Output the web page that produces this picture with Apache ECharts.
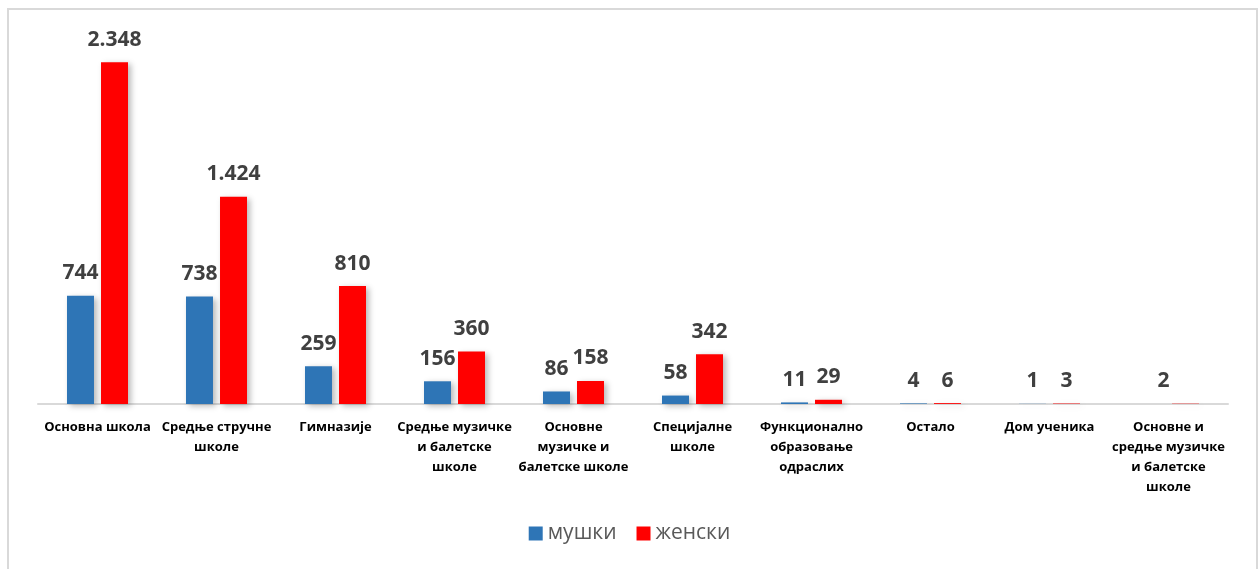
<!DOCTYPE html>
<html>
<head>
<meta charset="utf-8">
<script src="https://cdn.jsdelivr.net/npm/echarts@6/dist/echarts.min.js"></script>
<style>
html,body{margin:0;padding:0;background:#fff;}
#chart{width:1259px;height:569px;}
</style>
</head>
<body>
<div id="chart"></div>
<script>
const categories = [
  "Основна школа",
  "Средње стручне\nшколе",
  "Гимназије",
  "Средње музичке\nи балетске\nшколе",
  "Основне\nмузичке и\nбалетске школе",
  "Специјалне\nшколе",
  "Функционално\nобразовање\nодраслих",
  "Остало",
  "Дом ученика",
  "Основне и\nсредње музичке\nи балетске\nшколе"
];
const seriesNames = ["мушки", "женски"];
const male = [744, 738, 259, 156, 86, 58, 11, 4, 1, null];
const female = [2348, 1424, 810, 360, 158, 342, 29, 6, 3, 2];

function fmt(v) {
  return String(v).replace(/\B(?=(\d{3})+(?!\d))/g, ".");
}

const chart = echarts.init(document.getElementById('chart'));
const labelStyle = {
  show: true,
  position: 'top',
  distance: 12,
  fontFamily: 'Open Sans',
  fontWeight: 'bold',
  fontSize: 21,
  color: '#404040',
  formatter: p => p.value == null ? '' : fmt(p.value)
};
const shadow = {
  shadowColor: 'rgba(0,0,0,0.28)',
  shadowBlur: 6,
  shadowOffsetX: 3,
  shadowOffsetY: 2
};
chart.setOption({
  animation: false,
  graphic: [{
    type: 'rect',
    shape: {x: 8, y: 9, width: 1249, height: 580},
    style: {fill: 'none', stroke: '#d9d9d9', lineWidth: 2},
    silent: true
  }],
  legend: {
    bottom: 20,
    left: 'center',
    itemWidth: 14,
    itemHeight: 14,
    itemGap: 20,
    icon: 'rect',
    textStyle: {fontFamily: 'Open Sans', fontSize: 21, color: '#595959'},
    data: seriesNames
  },
  grid: {left: 38, right: 31, top: 40, bottom: 165},
  xAxis: {
    type: 'category',
    data: categories,
    axisLine: {lineStyle: {color: '#d9d9d9', width: 2}},
    axisTick: {show: false},
    axisLabel: {
      interval: 0,
      margin: 13,
      fontFamily: 'Open Sans',
      fontWeight: 'bold',
      fontSize: 13,
      lineHeight: 20,
      color: '#000'
    }
  },
  yAxis: {
    type: 'value',
    min: 0,
    max: 2500,
    show: false,
    splitLine: {show: false}
  },
  series: [
    {
      name: seriesNames[0],
      type: 'bar',
      data: male,
      barWidth: 27,
      barGap: '26%',
      itemStyle: Object.assign({color: '#2E75B6'}, shadow),
      label: labelStyle
    },
    {
      name: seriesNames[1],
      type: 'bar',
      data: female.map((v, i) => i === 9 ? {value: v, label: {offset: [-22, 0]}} : v),
      barWidth: 27,
      itemStyle: Object.assign({color: '#FF0000'}, shadow),
      label: labelStyle
    }
  ]
});
</script>
</body>
</html>
